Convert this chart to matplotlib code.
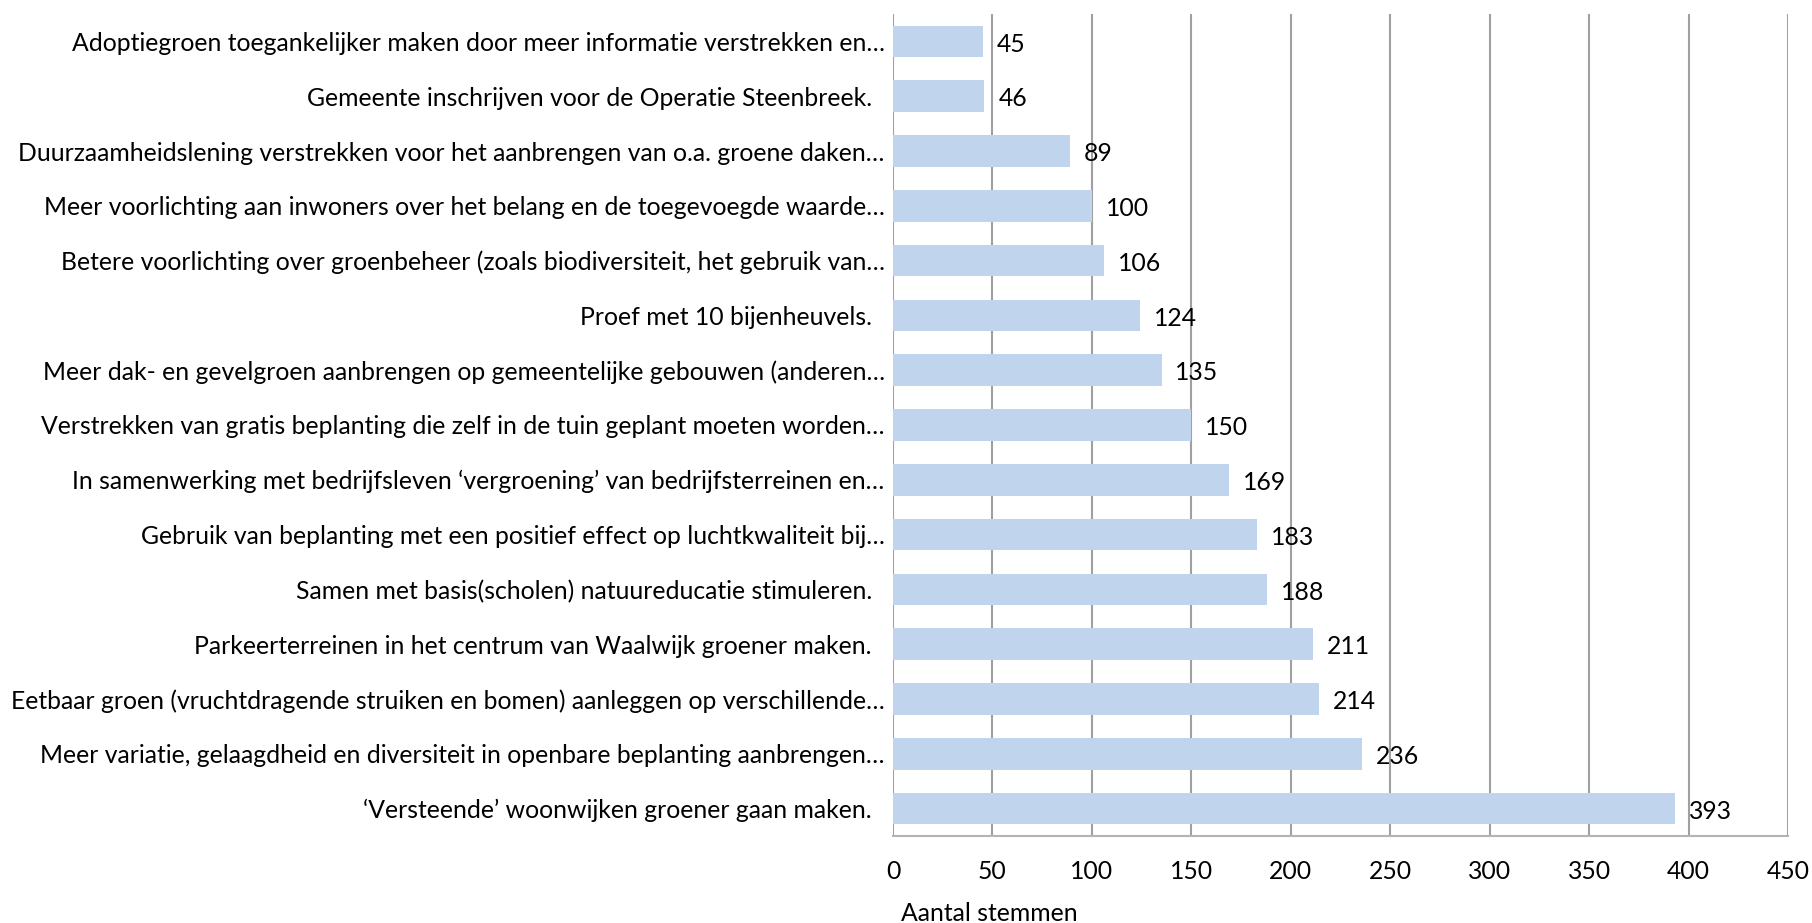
import matplotlib
matplotlib.use("Agg")
import matplotlib.pyplot as plt

# === Data ===
maatregelen = [
    "Adoptiegroen toegankelijker maken door meer informatie verstrekken en…",
    "Gemeente inschrijven voor de Operatie Steenbreek.  ",
    "Duurzaamheidslening verstrekken voor het aanbrengen van o.a. groene daken…",
    "Meer voorlichting aan inwoners over het belang en de toegevoegde waarde…",
    "Betere voorlichting over groenbeheer (zoals biodiversiteit, het gebruik van…",
    "Proef met 10 bijenheuvels.  ",
    "Meer dak- en gevelgroen aanbrengen op gemeentelijke gebouwen (anderen…",
    "Verstrekken van gratis beplanting die zelf in de tuin geplant moeten worden…",
    "In samenwerking met bedrijfsleven ‘vergroening’ van bedrijfsterreinen en…",
    "Gebruik van beplanting met een positief effect op luchtkwaliteit bij…",
    "Samen met basis(scholen) natuureducatie stimuleren.  ",
    "Parkeerterreinen in het centrum van Waalwijk groener maken.  ",
    "Eetbaar groen (vruchtdragende struiken en bomen) aanleggen op verschillende…",
    "Meer variatie, gelaagdheid en diversiteit in openbare beplanting aanbrengen…",
    "‘Versteende’ woonwijken groener gaan maken.  ",
]
stemmen = [45, 46, 89, 100, 106, 124, 135, 150, 169, 183, 188, 211, 214, 236, 393]
x_ticks = [0, 50, 100, 150, 200, 250, 300, 350, 400, 450]

plt.rcParams['font.family'] = ['Lato', 'DejaVu Sans']
FS = 17.8

fig = plt.figure(figsize=(18.12, 9.23), dpi=100)
ax = fig.add_axes([893 / 1812, 87 / 923, 895 / 1812, 822 / 923])

pos = list(range(len(maatregelen)))
ax.barh(pos, stemmen, height=0.58, color='#c0d4ee', zorder=3)

for p, v in zip(pos, stemmen):
    ax.annotate(str(v), xy=(v, p), xytext=(10, -2), textcoords='offset points',
                va='center', ha='left', fontsize=FS, color='black', zorder=4)

ax.set_yticks(pos)
ax.set_yticklabels(maatregelen, fontsize=FS)
ax.set_ylim(len(maatregelen) - 0.5, -0.5)

ax.set_xlim(0, 450)
ax.set_xticks(x_ticks)
ax.set_xticklabels([str(t) for t in x_ticks], fontsize=FS)
ax.tick_params(axis='both', length=0)
ax.tick_params(axis='x', pad=17)
ax.tick_params(axis='y', pad=6)

ax.grid(axis='x', color='#a0a0a0', linewidth=1.5, zorder=0)
for s in ['top', 'left', 'right']:
    ax.spines[s].set_visible(False)
ax.spines['bottom'].set_color('#b4b4b4')
ax.spines['bottom'].set_linewidth(1.5)

ax.set_xlabel("Aantal stemmen", fontsize=FS, va='center')
ax.xaxis.set_label_coords(0.108, -0.094)

fig.savefig("out.png", dpi=100)
